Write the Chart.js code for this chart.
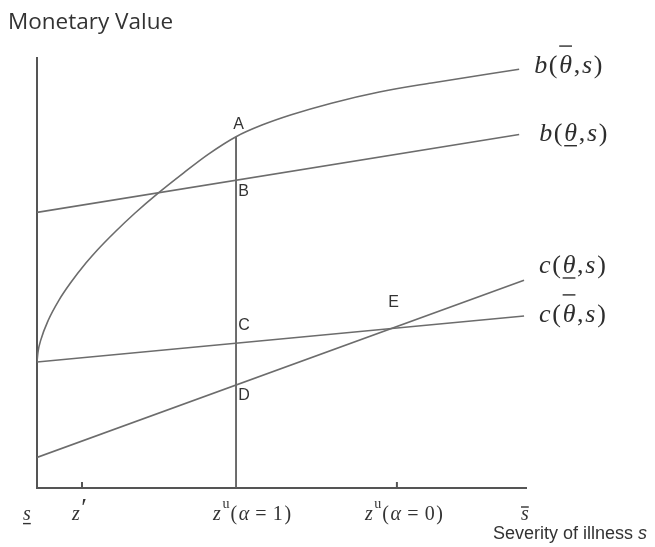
<!DOCTYPE html>
<html><head><meta charset="utf-8">
<script src="https://cdn.jsdelivr.net/npm/chart.js@4/dist/chart.umd.min.js"></script>
<style>html,body{margin:0;padding:0;background:#fff}canvas{display:block}</style>
</head><body>
<canvas id="c" width="655" height="547"></canvas>
<script>
// ---- data ----
const tickValues = [0, 0.92, 4.07, 7.36, 10];
const tickLabels = ['s\u0332', 'z\u2032', 'z\u1d58(\u03b1 = 1)', 'z\u1d58(\u03b1 = 0)', 's\u0304'];
const tickMarks = [0.92, 7.36];

const bHighX = [0, 0.02, 0.08, 0.23, 0.45, 0.68, 1.0, 1.23, 1.6, 2.0, 2.49, 3.0, 3.5, 4.07, 4.6, 5.2, 6.02, 7.0, 8.07, 9.86];
const bHighY = [2.93, 3.16, 3.45, 3.90, 4.37, 4.76, 5.23, 5.53, 5.96, 6.39, 6.87, 7.33, 7.76, 8.17, 8.44, 8.68, 8.95, 9.21, 9.42, 9.74];
const bLowX = [0, 9.86];
const bLowY = [6.41, 8.22];
const cHighX = [0, 9.96];
const cHighY = [2.93, 4.0];
const cLowX = [0, 9.96];
const cLowY = [0.71, 4.83];
const zuX = [4.07, 4.07];
const zuY = [0, 8.17];

const curveNames = ['b(\u03b8\u0304,s)', 'b(\u03b8\u0332,s)', 'c(\u03b8\u0332,s)', 'c(\u03b8\u0304,s)'];
const pointNames = ['A', 'B', 'C', 'D', 'E'];
const pointX = [4.07, 4.07, 4.07, 4.07, 7.25];
const pointY = [8.17, 7.15, 3.37, 2.40, 3.74];

const yTitle = 'Monetary Value';
const xTitle = 'Severity of illness ';
const xTitleVar = 's';

// ---- helpers ----
const pts = (xs, ys) => xs.map((x, i) => ({x, y: ys[i]}));
const LINE = '#6c6c6c';
const TEXT = '#333333';

function parseRich(str) {
  const out = [];
  for (const ch of str) {
    if (ch === '\u0304') { out[out.length - 1].bar = 'over'; continue; }
    if (ch === '\u0332') { out[out.length - 1].bar = 'under'; continue; }
    if (ch === '\u1d58') { out.push({t: 'u', kind: 'sup'}); continue; }
    if (ch === '\u2032') { out.push({t: '\u2032', kind: 'prime'}); continue; }
    if (ch === ' ') { out.push({t: ' ', kind: 'space'}); continue; }
    out.push({t: ch, kind: /[a-z\u03b1-\u03c9]/i.test(ch) ? 'ital' : 'up', greek: /[\u03b1-\u03c9]/.test(ch)});
  }
  return out;
}
function drawRich(ctx, str, x, y, size, spacing) {
  const items = parseRich(str);
  const fontFor = it => it.kind === 'sup' ? `${Math.round(size * 0.68)}px "Liberation Serif"`
    : it.kind === 'prime' ? `${Math.round(size * 1.3)}px "Liberation Serif"`
    : it.kind === 'ital' ? `italic ${size}px "Liberation Serif"` : `${size}px "Liberation Serif"`;
  let cx = x;
  items.forEach(it => {
    ctx.font = fontFor(it);
    const m = ctx.measureText(it.t);
    const w = it.kind === 'space' ? m.width * 0.6 : m.width;
    const dy = it.kind === 'sup' ? -size * 0.62 : it.kind === 'prime' ? -size * 0.2 : 0;
    ctx.fillText(it.t, cx, y + dy);
    if (it.bar) {
      const by = it.bar === 'over'
        ? y - m.actualBoundingBoxAscent - (it.greek ? size * 0.35 : size * 0.15)
        : y + size * 0.18;
      ctx.save();
      ctx.lineWidth = 1.4;
      ctx.strokeStyle = ctx.fillStyle;
      ctx.beginPath();
      ctx.moveTo(cx, by); ctx.lineTo(cx + w, by);
      ctx.stroke();
      ctx.restore();
    }
    cx += w + (it.kind === 'sup' ? 1 : spacing);
  });
}

const textPlugin = {
  id: 'texts',
  afterDraw(chart) {
    const ctx = chart.ctx;
    const xs = chart.scales.x, ys = chart.scales.y;
    ctx.save();
    ctx.fillStyle = TEXT;
    ctx.textBaseline = 'alphabetic';
    ctx.textAlign = 'left';

    // y title
    ctx.font = '22.5px "Open Sans"';
    ctx.fillText(yTitle, 8, 29);

    // x tick labels
    const shift = [-14, -10, -23, -32, -5];
    tickValues.forEach((v, i) => {
      const px = xs.getPixelForValue(v);
      drawRich(ctx, tickLabels[i], px + shift[i], ys.bottom + 32, 20, 1.6);
    });

    // x title
    ctx.font = '18px "Liberation Sans"';
    ctx.fillText(xTitle, 493, 539);
    const w0 = ctx.measureText(xTitle).width;
    ctx.font = 'italic 18px "Liberation Sans"';
    ctx.fillText(xTitleVar, 493 + w0, 539);

    // curve labels, anchored to each curve's end
    const ends = [
      [bHighX[bHighX.length - 1], bHighY[bHighY.length - 1], 15, 4],
      [bLowX[1], bLowY[1], 20, 6.5],
      [cLowX[1], cLowY[1], 15, -7],
      [cHighX[1], cHighY[1], 15, 6],
    ];
    ctx.fillStyle = '#2e2e2e';
    curveNames.forEach((n, i) => {
      const [vx, vy, dx, dy] = ends[i];
      drawRich(ctx, n, xs.getPixelForValue(vx) + dx, ys.getPixelForValue(vy) + dy, 26, 1.7);
    });

    // point labels
    const off = [[2.5, -12], [7.5, 11.5], [8, -17], [8, 11], [2, -25]];
    ctx.fillStyle = TEXT;
    ctx.font = '16px "Liberation Sans"';
    ctx.textAlign = 'center';
    ctx.textBaseline = 'middle';
    pointNames.forEach((n, i) => {
      ctx.fillText(n, xs.getPixelForValue(pointX[i]) + off[i][0], ys.getPixelForValue(pointY[i]) + off[i][1]);
    });
    ctx.restore();
  }
};

const lineDs = (data, extra) => Object.assign({
  data, showLine: true, borderColor: LINE, borderWidth: 1.6, pointRadius: 0, fill: false
}, extra || {});

const axis = {
  type: 'linear', min: 0, max: 10,
  ticks: {display: false, padding: 0},
  grid: {display: false, drawTicks: false, tickLength: 0},
  border: {display: true, color: '#555', width: 2}
};

new Chart(document.getElementById('c'), {
  type: 'scatter',
  data: {
    datasets: [
      lineDs(pts(bHighX, bHighY), {cubicInterpolationMode: 'monotone'}),
      lineDs(pts(bLowX, bLowY)),
      lineDs(pts(cHighX, cHighY)),
      lineDs(pts(cLowX, cLowY)),
      lineDs(pts(zuX, zuY), {borderColor: '#5e5e5e', borderWidth: 1.8}),
      {
        data: tickMarks.map(x => ({x, y: 0})), showLine: false,
        pointStyle: 'line', rotation: 90, pointRadius: 6,
        borderColor: '#555', borderWidth: 2, pointBorderColor: '#555', pointBorderWidth: 2
      }
    ]
  },
  options: {
    responsive: false,
    animation: false,
    devicePixelRatio: 1,
    layout: {padding: {left: 37, right: 129, top: 58, bottom: 59}},
    plugins: {legend: {display: false}, tooltip: {enabled: false}, title: {display: false}},
    scales: {x: Object.assign({}, axis), y: Object.assign({}, axis)},
    elements: {line: {borderCapStyle: 'butt'}}
  },
  plugins: [textPlugin]
});
</script>
</body></html>
